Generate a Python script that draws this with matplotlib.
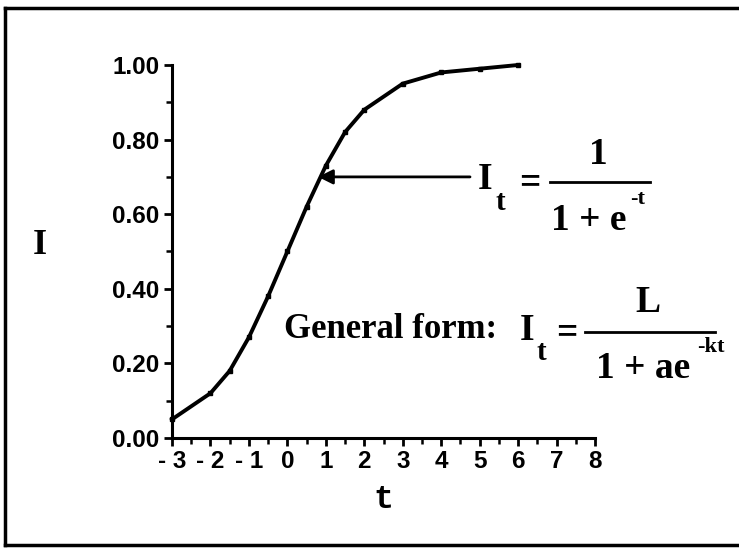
import numpy as np
import matplotlib.pyplot as plt
from matplotlib.lines import Line2D
from matplotlib.ticker import MultipleLocator

# values
t = [-3, -2, -1.5, -1, -0.5, 0, 0.5, 1, 1.5, 2, 3, 4, 5, 6]
I = [0.05, 0.12, 0.18, 0.27, 0.38, 0.50, 0.62, 0.73, 0.82, 0.88, 0.95, 0.98, 0.99, 1.00]
xticks = [-3, -2, -1, 0, 1, 2, 3, 4, 5, 6, 7, 8]
xtick_labels = ['- 3', '- 2', '- 1', '0', '1', '2', '3', '4', '5', '6', '7', '8']
yticks = [0.0, 0.2, 0.4, 0.6, 0.8, 1.0]
ytick_labels = ['0.00', '0.20', '0.40', '0.60', '0.80', '1.00']

W, H = 739, 548
fig = plt.figure(figsize=(W / 100, H / 100), dpi=100)


def px(x, y):
    return x / W, 1 - y / H


ax = fig.add_axes([172 / W, 1 - 438 / H, (595 - 172) / W, (438 - 65) / H])
ax.plot(t, I, color='black', lw=2.8, marker='s', markersize=3.5, clip_on=False)

ax.set_xlim(-3, 8)
ax.set_ylim(0, 1.0)
ax.set_xticks(xticks)
ax.set_xticklabels(xtick_labels)
ax.set_yticks(yticks)
ax.set_yticklabels(ytick_labels)
ax.xaxis.set_minor_locator(MultipleLocator(0.5))
ax.yaxis.set_minor_locator(MultipleLocator(0.1))
for s in ['top', 'right']:
    ax.spines[s].set_visible(False)
for s in ['left', 'bottom']:
    ax.spines[s].set_linewidth(2.2)
ax.tick_params(which='major', direction='out', length=6, width=2, pad=3)
ax.tick_params(which='minor', direction='out', length=4, width=1.8)
for lab in ax.get_xticklabels() + ax.get_yticklabels():
    lab.set_fontfamily('Liberation Sans')
    lab.set_fontweight('bold')
    lab.set_fontsize(17.5)

serif = dict(family='Liberation Serif', weight='bold', color='black')

# axis labels
fig.text(*px(40, 245), 'I', fontsize=26, ha='center', va='center', **serif)
fig.text(*px(383, 500), 't', fontsize=24, ha='center', va='center',
         family='Liberation Mono', weight='bold')

# arrow to curve
ax.annotate('', xy=(0.8, 0.70), xytext=(4.75, 0.70),
            arrowprops=dict(arrowstyle='-|>', lw=2, color='black',
                            mutation_scale=22, shrinkA=0, shrinkB=0))

# first formula
fig.text(*px(485, 180), 'I', fontsize=27, ha='center', va='center', **serif)
fig.text(*px(500, 203), 't', fontsize=21, ha='center', va='center', **serif)
fig.text(*px(530, 183), '=', fontsize=27, ha='center', va='center', **serif)
fig.add_artist(Line2D([550 / W, 650 / W], [1 - 182 / H, 1 - 182 / H],
                      color='black', lw=2))
fig.text(*px(598, 154), '1', fontsize=27, ha='center', va='center', **serif)
fig.text(*px(589, 220), '1 + e', fontsize=27, ha='center', va='center', **serif)
fig.text(*px(638, 199), '-t', fontsize=16, ha='center', va='center', **serif)

# general form
fig.text(*px(284, 330), 'General form:', fontsize=25, ha='left', va='center', **serif)
fig.text(*px(527, 330), 'I', fontsize=27, ha='center', va='center', **serif)
fig.text(*px(541, 353), 't', fontsize=21, ha='center', va='center', **serif)
fig.text(*px(567, 333), '=', fontsize=27, ha='center', va='center', **serif)
fig.add_artist(Line2D([585 / W, 715 / W], [1 - 332 / H, 1 - 332 / H],
                      color='black', lw=2))
fig.text(*px(648, 302), 'L', fontsize=27, ha='center', va='center', **serif)
fig.text(*px(643, 368), '1 + ae', fontsize=27, ha='center', va='center', **serif)
fig.text(*px(711, 347), '-kt', fontsize=16, ha='center', va='center', **serif)

# outer frame
frame = dict(color='black', lw=2.5)
fig.add_artist(Line2D([5 / W, 5 / W], [1 - 545 / H, 1 - 8 / H], **frame))
fig.add_artist(Line2D([5 / W, 1.0], [1 - 8 / H, 1 - 8 / H], **frame))
fig.add_artist(Line2D([5 / W, 1.0], [1 - 545 / H, 1 - 545 / H], **frame))

fig.savefig('out.png', dpi=100)
